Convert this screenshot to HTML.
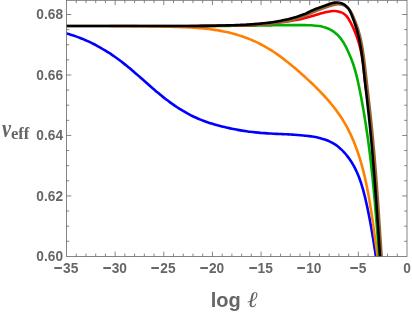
<!DOCTYPE html>
<html><head><meta charset="utf-8"><title>plot</title>
<style>
html,body{margin:0;padding:0;background:#fff;}
body{width:412px;height:314px;position:relative;overflow:hidden;font-family:"Liberation Sans",sans-serif;color:#666666;}
.yl{position:absolute;left:0;width:63px;text-align:right;font-weight:bold;font-size:13.7px;line-height:16px;height:16px;margin-top:-8px;transform:scaleY(1.05);}
.xl{position:absolute;top:261.2px;width:60px;margin-left:-30px;text-align:center;font-weight:bold;font-size:13.7px;line-height:16px;height:16px;white-space:nowrap;transform:scaleY(1.05);}
.mn{display:inline-block;transform:scale(1.12,1.25);margin-right:0.9px;margin-left:-0.6px}
.nu{position:absolute;left:1.7px;top:113.5px;font-family:"Liberation Serif",serif;font-weight:bold;font-style:italic;font-size:26px;line-height:30px;height:30px;white-space:nowrap;transform:scaleX(0.78);transform-origin:0 0;}
.ef{position:absolute;left:10.9px;top:124.4px;font-family:"Liberation Serif",serif;font-weight:bold;font-size:16.6px;line-height:20px;height:20px;white-space:nowrap;}
.xt{position:absolute;left:210.8px;top:284.5px;font-weight:bold;font-size:20px;line-height:30px;height:30px;white-space:nowrap;}
.el{position:absolute;left:247px;top:284.5px;font-family:"Liberation Serif",serif;font-style:italic;font-size:22px;line-height:30px;height:30px;transform:scaleX(1.15);transform-origin:0 0;}
</style></head><body>
<svg width="412" height="314" viewBox="0 0 412 314" style="position:absolute;left:0;top:0">
<defs><clipPath id="c"><rect x="66.50" y="0.30" width="340.50" height="256.10"/></clipPath></defs>
<g clip-path="url(#c)" fill="none" stroke-width="2.6" stroke-linejoin="round">
<path d="M59.93,31.90 C60.42,32.01 61.90,32.34 62.88,32.57 C63.85,32.80 64.83,33.05 65.80,33.30 C66.77,33.56 67.73,33.82 68.70,34.10 C69.66,34.37 70.62,34.66 71.57,34.96 C72.52,35.26 73.47,35.57 74.42,35.88 C75.36,36.20 76.30,36.53 77.24,36.87 C78.18,37.21 79.11,37.56 80.04,37.92 C80.97,38.27 81.89,38.64 82.81,39.02 C83.73,39.40 84.65,39.79 85.56,40.18 C86.48,40.58 87.38,40.98 88.29,41.40 C89.19,41.81 90.09,42.24 90.99,42.67 C91.88,43.10 92.77,43.54 93.66,43.99 C94.54,44.44 95.43,44.90 96.30,45.37 C97.18,45.83 98.06,46.31 98.93,46.79 C99.79,47.27 100.66,47.76 101.52,48.26 C102.38,48.76 103.24,49.26 104.09,49.78 C104.94,50.29 105.79,50.81 106.63,51.34 C107.47,51.86 108.31,52.40 109.15,52.94 C109.98,53.48 110.81,54.03 111.63,54.59 C112.46,55.14 113.28,55.71 114.10,56.27 C114.91,56.84 115.72,57.42 116.53,58.00 C117.34,58.58 118.14,59.17 118.94,59.76 C119.74,60.36 120.53,60.96 121.32,61.56 C122.11,62.17 122.89,62.78 123.67,63.39 C124.46,64.01 125.23,64.63 126.01,65.25 C126.78,65.88 127.55,66.51 128.32,67.14 C129.08,67.77 129.85,68.41 130.61,69.05 C131.37,69.69 132.13,70.34 132.89,70.98 C133.65,71.63 134.40,72.28 135.15,72.93 C135.91,73.58 136.66,74.23 137.41,74.89 C138.16,75.54 138.91,76.20 139.66,76.86 C140.41,77.52 141.15,78.18 141.90,78.83 C142.65,79.49 143.40,80.15 144.14,80.81 C144.89,81.47 145.64,82.13 146.39,82.79 C147.13,83.45 147.88,84.11 148.63,84.77 C149.38,85.43 150.13,86.08 150.88,86.74 C151.63,87.39 152.39,88.05 153.14,88.70 C153.90,89.35 154.65,90.00 155.41,90.64 C156.17,91.29 156.93,91.93 157.70,92.57 C158.46,93.21 159.23,93.85 160.00,94.48 C160.77,95.11 161.54,95.74 162.32,96.36 C163.09,96.99 163.87,97.61 164.66,98.22 C165.44,98.84 166.23,99.45 167.02,100.05 C167.82,100.66 168.61,101.25 169.42,101.85 C170.22,102.44 171.03,103.03 171.84,103.61 C172.65,104.19 173.47,104.76 174.29,105.32 C175.11,105.89 175.94,106.45 176.77,107.00 C177.60,107.55 178.44,108.09 179.28,108.63 C180.13,109.16 180.97,109.69 181.83,110.21 C182.68,110.73 183.54,111.24 184.40,111.74 C185.26,112.24 186.13,112.73 187.00,113.21 C187.87,113.69 188.75,114.16 189.63,114.62 C190.51,115.08 191.40,115.53 192.29,115.97 C193.19,116.41 194.08,116.84 194.98,117.25 C195.89,117.67 196.79,118.07 197.70,118.47 C198.61,118.86 199.53,119.24 200.45,119.62 C201.37,119.99 202.30,120.35 203.22,120.70 C204.15,121.05 205.08,121.39 206.02,121.73 C206.96,122.06 207.90,122.38 208.84,122.69 C209.78,123.01 210.73,123.31 211.68,123.61 C212.63,123.90 213.58,124.19 214.53,124.47 C215.49,124.75 216.45,125.02 217.41,125.29 C218.36,125.55 219.33,125.81 220.29,126.06 C221.26,126.31 222.22,126.55 223.19,126.79 C224.16,127.03 225.13,127.26 226.10,127.48 C227.07,127.71 228.04,127.93 229.02,128.14 C229.99,128.35 230.97,128.55 231.95,128.75 C232.92,128.95 233.90,129.14 234.88,129.33 C235.86,129.52 236.84,129.70 237.83,129.87 C238.81,130.04 239.79,130.21 240.78,130.37 C241.76,130.54 242.75,130.69 243.73,130.84 C244.72,130.99 245.71,131.14 246.70,131.28 C247.69,131.41 248.67,131.55 249.66,131.67 C250.65,131.80 251.64,131.92 252.63,132.04 C253.63,132.15 254.62,132.26 255.61,132.37 C256.60,132.47 257.59,132.57 258.58,132.66 C259.57,132.76 260.57,132.85 261.56,132.93 C262.55,133.01 263.54,133.09 264.54,133.16 C265.53,133.23 266.52,133.30 267.51,133.36 C268.50,133.43 269.50,133.48 270.49,133.54 C271.48,133.60 272.47,133.65 273.47,133.70 C274.46,133.75 275.45,133.80 276.44,133.84 C277.44,133.89 278.43,133.93 279.42,133.98 C280.41,134.02 281.41,134.07 282.40,134.11 C283.39,134.16 284.39,134.20 285.38,134.25 C286.37,134.30 287.37,134.35 288.36,134.40 C289.35,134.45 290.35,134.50 291.34,134.56 C292.34,134.62 293.33,134.67 294.33,134.74 C295.32,134.80 296.32,134.87 297.31,134.95 C298.31,135.02 299.31,135.10 300.30,135.18 C301.30,135.27 302.30,135.36 303.29,135.46 C304.29,135.56 305.29,135.66 306.29,135.78 C307.29,135.89 308.29,136.01 309.28,136.15 C310.28,136.28 311.28,136.42 312.27,136.58 C313.27,136.73 314.26,136.90 315.25,137.08 C316.23,137.27 317.22,137.47 318.19,137.69 C319.16,137.90 320.13,138.14 321.09,138.40 C322.05,138.66 323.00,138.93 323.94,139.23 C324.88,139.54 325.81,139.86 326.73,140.21 C327.64,140.56 328.55,140.94 329.43,141.35 C330.32,141.76 331.20,142.19 332.05,142.66 C332.91,143.13 333.75,143.63 334.58,144.15 C335.40,144.68 336.21,145.24 337.00,145.83 C337.78,146.42 338.56,147.03 339.31,147.67 C340.07,148.31 340.80,148.98 341.52,149.66 C342.24,150.35 342.95,151.06 343.63,151.79 C344.32,152.51 344.98,153.26 345.63,154.03 C346.28,154.79 346.92,155.58 347.53,156.37 C348.15,157.17 348.74,157.98 349.32,158.81 C349.90,159.63 350.46,160.47 351.00,161.31 C351.55,162.15 352.07,163.01 352.58,163.87 C353.09,164.73 353.58,165.60 354.05,166.48 C354.53,167.36 354.98,168.24 355.42,169.13 C355.87,170.02 356.29,170.92 356.70,171.83 C357.12,172.73 357.51,173.64 357.90,174.56 C358.28,175.47 358.65,176.39 359.01,177.32 C359.37,178.25 359.71,179.18 360.05,180.12 C360.38,181.05 360.71,182.00 361.02,182.94 C361.33,183.89 361.63,184.84 361.93,185.79 C362.22,186.74 362.50,187.70 362.78,188.66 C363.05,189.62 363.32,190.58 363.58,191.54 C363.84,192.51 364.09,193.48 364.33,194.45 C364.58,195.41 364.82,196.39 365.05,197.36 C365.28,198.33 365.51,199.30 365.73,200.28 C365.96,201.25 366.18,202.23 366.39,203.20 C366.61,204.18 366.82,205.15 367.03,206.13 C367.24,207.10 367.45,208.08 367.65,209.06 C367.86,210.03 368.06,211.01 368.26,211.98 C368.46,212.96 368.65,213.93 368.85,214.91 C369.04,215.89 369.23,216.86 369.42,217.84 C369.61,218.81 369.80,219.79 369.98,220.77 C370.17,221.74 370.35,222.72 370.53,223.70 C370.71,224.67 370.89,225.65 371.06,226.63 C371.24,227.61 371.41,228.59 371.58,229.56 C371.75,230.54 371.92,231.52 372.09,232.50 C372.26,233.48 372.42,234.46 372.59,235.44 C372.75,236.42 372.91,237.40 373.08,238.38 C373.24,239.36 373.40,240.34 373.55,241.32 C373.71,242.30 373.87,243.29 374.02,244.27 C374.18,245.25 374.33,246.24 374.48,247.22 C374.63,248.20 374.78,249.19 374.93,250.17 C375.08,251.16 375.23,252.15 375.38,253.13 C375.52,254.12 375.67,255.11 375.81,256.09 C375.96,257.08 376.10,258.07 376.25,259.06 C376.39,260.05 376.53,261.04 376.67,262.03 C376.82,263.02 377.03,264.51 377.10,265.01" stroke="#0000ff"/>
<path d="M110.00,25.93 C110.50,25.93 112.01,25.94 113.01,25.94 C114.01,25.94 115.01,25.95 116.01,25.95 C117.01,25.96 118.01,25.97 119.01,25.97 C120.01,25.98 121.01,25.99 122.01,25.99 C123.01,26.00 124.00,26.01 125.00,26.02 C126.00,26.03 127.00,26.04 127.99,26.05 C128.99,26.05 129.99,26.07 130.99,26.08 C131.98,26.09 132.98,26.10 133.98,26.11 C134.97,26.12 135.97,26.14 136.96,26.15 C137.96,26.16 138.96,26.18 139.95,26.19 C140.95,26.20 141.95,26.22 142.94,26.23 C143.94,26.25 144.93,26.26 145.93,26.28 C146.93,26.30 147.92,26.31 148.92,26.33 C149.91,26.35 150.91,26.37 151.91,26.38 C152.90,26.40 153.90,26.42 154.90,26.44 C155.90,26.46 156.89,26.48 157.89,26.50 C158.89,26.52 159.89,26.54 160.88,26.56 C161.88,26.58 162.88,26.60 163.88,26.62 C164.88,26.65 165.88,26.67 166.88,26.69 C167.88,26.71 168.88,26.74 169.88,26.76 C170.88,26.78 171.88,26.81 172.88,26.83 C173.88,26.86 174.89,26.88 175.89,26.91 C176.89,26.94 177.89,26.97 178.90,27.00 C179.90,27.03 180.90,27.06 181.90,27.10 C182.91,27.13 183.91,27.17 184.91,27.21 C185.91,27.25 186.92,27.30 187.92,27.34 C188.92,27.39 189.92,27.44 190.93,27.50 C191.93,27.55 192.93,27.61 193.93,27.67 C194.93,27.74 195.93,27.81 196.93,27.88 C197.93,27.95 198.93,28.03 199.93,28.11 C200.92,28.20 201.92,28.29 202.92,28.38 C203.92,28.48 204.91,28.58 205.91,28.68 C206.90,28.79 207.89,28.91 208.89,29.03 C209.88,29.15 210.87,29.28 211.86,29.41 C212.85,29.55 213.84,29.69 214.83,29.84 C215.82,29.99 216.80,30.15 217.79,30.32 C218.77,30.49 219.76,30.66 220.74,30.85 C221.72,31.03 222.70,31.23 223.68,31.43 C224.66,31.63 225.63,31.84 226.61,32.06 C227.58,32.28 228.55,32.51 229.52,32.75 C230.49,32.98 231.46,33.23 232.42,33.49 C233.38,33.74 234.34,34.01 235.30,34.28 C236.26,34.55 237.21,34.84 238.17,35.13 C239.12,35.42 240.06,35.72 241.01,36.03 C241.95,36.34 242.90,36.66 243.83,36.99 C244.77,37.32 245.70,37.66 246.63,38.01 C247.56,38.36 248.49,38.72 249.41,39.09 C250.33,39.46 251.25,39.84 252.16,40.23 C253.07,40.62 253.98,41.01 254.88,41.42 C255.78,41.83 256.68,42.25 257.58,42.68 C258.47,43.11 259.36,43.55 260.24,44.00 C261.12,44.45 262.00,44.91 262.87,45.38 C263.74,45.85 264.61,46.33 265.47,46.82 C266.33,47.31 267.19,47.82 268.04,48.33 C268.89,48.84 269.73,49.36 270.57,49.88 C271.41,50.41 272.25,50.95 273.08,51.50 C273.91,52.04 274.74,52.60 275.56,53.16 C276.39,53.72 277.20,54.29 278.02,54.87 C278.83,55.44 279.64,56.03 280.45,56.62 C281.25,57.21 282.06,57.81 282.85,58.41 C283.65,59.01 284.45,59.62 285.24,60.24 C286.03,60.85 286.82,61.47 287.60,62.10 C288.39,62.73 289.17,63.36 289.95,64.00 C290.73,64.63 291.50,65.27 292.28,65.92 C293.05,66.56 293.82,67.21 294.59,67.86 C295.36,68.52 296.12,69.17 296.89,69.83 C297.65,70.49 298.41,71.15 299.17,71.82 C299.93,72.48 300.68,73.15 301.44,73.82 C302.19,74.49 302.95,75.16 303.70,75.83 C304.45,76.50 305.20,77.18 305.94,77.86 C306.69,78.54 307.43,79.22 308.17,79.90 C308.91,80.59 309.65,81.27 310.38,81.96 C311.12,82.65 311.85,83.35 312.57,84.04 C313.30,84.74 314.02,85.44 314.74,86.14 C315.46,86.84 316.18,87.55 316.89,88.26 C317.60,88.96 318.30,89.68 319.00,90.39 C319.70,91.11 320.40,91.83 321.09,92.55 C321.78,93.28 322.47,94.00 323.15,94.74 C323.83,95.47 324.51,96.20 325.18,96.94 C325.85,97.68 326.51,98.43 327.17,99.17 C327.83,99.92 328.48,100.68 329.12,101.43 C329.77,102.19 330.41,102.95 331.04,103.72 C331.67,104.49 332.29,105.26 332.91,106.03 C333.53,106.81 334.14,107.59 334.74,108.38 C335.35,109.16 335.94,109.96 336.53,110.75 C337.12,111.55 337.70,112.35 338.27,113.16 C338.84,113.97 339.40,114.78 339.96,115.60 C340.51,116.42 341.06,117.24 341.59,118.07 C342.13,118.90 342.66,119.74 343.18,120.58 C343.70,121.43 344.21,122.27 344.71,123.13 C345.21,123.98 345.70,124.84 346.18,125.71 C346.66,126.58 347.13,127.45 347.59,128.33 C348.06,129.21 348.51,130.09 348.95,130.98 C349.40,131.87 349.83,132.76 350.26,133.66 C350.69,134.56 351.11,135.46 351.52,136.37 C351.93,137.28 352.33,138.19 352.72,139.11 C353.12,140.03 353.50,140.95 353.88,141.87 C354.26,142.80 354.63,143.73 354.99,144.66 C355.36,145.59 355.71,146.53 356.06,147.47 C356.41,148.41 356.75,149.35 357.08,150.29 C357.42,151.24 357.74,152.18 358.06,153.13 C358.38,154.08 358.70,155.04 359.00,155.99 C359.31,156.94 359.61,157.90 359.91,158.86 C360.20,159.82 360.49,160.78 360.77,161.74 C361.05,162.70 361.33,163.66 361.60,164.62 C361.87,165.59 362.14,166.55 362.40,167.52 C362.66,168.49 362.91,169.45 363.16,170.42 C363.41,171.39 363.65,172.36 363.89,173.33 C364.13,174.30 364.37,175.27 364.60,176.24 C364.83,177.22 365.05,178.19 365.27,179.16 C365.49,180.14 365.71,181.11 365.92,182.09 C366.13,183.07 366.34,184.05 366.54,185.02 C366.74,186.00 366.94,186.98 367.14,187.96 C367.33,188.94 367.53,189.92 367.71,190.90 C367.90,191.88 368.09,192.86 368.27,193.85 C368.45,194.83 368.63,195.81 368.80,196.80 C368.98,197.78 369.15,198.77 369.32,199.75 C369.49,200.74 369.66,201.72 369.82,202.71 C369.98,203.69 370.14,204.68 370.30,205.67 C370.46,206.65 370.62,207.64 370.77,208.63 C370.93,209.62 371.08,210.60 371.23,211.59 C371.38,212.58 371.53,213.57 371.68,214.56 C371.83,215.55 371.97,216.54 372.12,217.53 C372.26,218.52 372.40,219.51 372.54,220.50 C372.69,221.49 372.83,222.48 372.97,223.47 C373.11,224.45 373.25,225.45 373.38,226.44 C373.52,227.43 373.66,228.42 373.80,229.41 C373.93,230.40 374.07,231.39 374.21,232.38 C374.34,233.36 374.48,234.35 374.61,235.34 C374.75,236.33 374.89,237.32 375.02,238.31 C375.16,239.30 375.30,240.29 375.43,241.28 C375.57,242.27 375.71,243.26 375.85,244.25 C375.99,245.23 376.13,246.22 376.27,247.21 C376.41,248.20 376.55,249.18 376.69,250.17 C376.83,251.16 376.98,252.14 377.12,253.13 C377.27,254.11 377.42,255.10 377.56,256.08 C377.71,257.07 377.86,258.05 378.02,259.04 C378.17,260.02 378.32,261.00 378.48,261.98 C378.63,262.97 378.87,264.44 378.95,264.93" stroke="#ff8000"/>
<path d="M200.02,26.04 C200.51,26.03 202.00,26.02 202.99,26.02 C203.98,26.01 204.97,26.00 205.97,25.99 C206.96,25.99 207.95,25.98 208.95,25.97 C209.94,25.97 210.93,25.96 211.93,25.96 C212.92,25.95 213.92,25.94 214.91,25.94 C215.91,25.93 216.91,25.92 217.90,25.92 C218.90,25.91 219.90,25.90 220.89,25.90 C221.89,25.89 222.89,25.88 223.88,25.88 C224.88,25.87 225.88,25.86 226.88,25.85 C227.87,25.85 228.87,25.84 229.87,25.83 C230.87,25.82 231.87,25.82 232.86,25.81 C233.86,25.80 234.86,25.79 235.86,25.78 C236.86,25.77 237.85,25.77 238.85,25.76 C239.85,25.75 240.85,25.74 241.85,25.73 C242.84,25.72 243.84,25.71 244.84,25.70 C245.84,25.69 246.83,25.68 247.83,25.67 C248.83,25.66 249.82,25.65 250.82,25.63 C251.82,25.62 252.81,25.61 253.81,25.60 C254.80,25.59 255.80,25.57 256.79,25.56 C257.79,25.55 258.78,25.53 259.78,25.52 C260.77,25.50 261.76,25.49 262.76,25.47 C263.75,25.46 264.74,25.44 265.73,25.43 C266.73,25.41 267.72,25.40 268.71,25.38 C269.70,25.36 270.69,25.35 271.69,25.33 C272.68,25.32 273.67,25.30 274.66,25.29 C275.65,25.27 276.64,25.26 277.64,25.25 C278.63,25.23 279.62,25.22 280.61,25.21 C281.61,25.19 282.60,25.18 283.59,25.17 C284.59,25.16 285.58,25.15 286.57,25.14 C287.57,25.14 288.56,25.13 289.56,25.12 C290.55,25.12 291.55,25.11 292.55,25.11 C293.54,25.11 294.54,25.11 295.54,25.11 C296.54,25.11 297.54,25.11 298.54,25.11 C299.54,25.12 300.54,25.12 301.54,25.13 C302.55,25.14 303.55,25.15 304.55,25.16 C305.56,25.18 306.57,25.19 307.57,25.21 C308.58,25.23 309.59,25.25 310.59,25.28 C311.60,25.32 312.60,25.36 313.60,25.43 C314.60,25.50 315.60,25.57 316.59,25.68 C317.58,25.79 318.56,25.92 319.53,26.08 C320.51,26.25 321.48,26.44 322.43,26.67 C323.39,26.90 324.34,27.17 325.27,27.48 C326.20,27.79 327.12,28.15 328.02,28.54 C328.92,28.94 329.81,29.38 330.68,29.86 C331.54,30.34 332.39,30.85 333.20,31.41 C334.02,31.96 334.82,32.55 335.58,33.18 C336.34,33.81 337.08,34.47 337.78,35.16 C338.48,35.86 339.14,36.59 339.78,37.34 C340.42,38.10 341.02,38.89 341.61,39.69 C342.19,40.50 342.74,41.33 343.27,42.18 C343.80,43.03 344.31,43.90 344.80,44.78 C345.29,45.65 345.76,46.55 346.21,47.45 C346.67,48.35 347.10,49.26 347.53,50.18 C347.96,51.09 348.38,52.01 348.78,52.92 C349.19,53.84 349.59,54.76 349.97,55.67 C350.36,56.59 350.74,57.51 351.10,58.44 C351.47,59.36 351.82,60.29 352.16,61.22 C352.51,62.15 352.84,63.08 353.16,64.02 C353.48,64.95 353.78,65.90 354.08,66.84 C354.38,67.79 354.66,68.74 354.94,69.69 C355.21,70.64 355.48,71.60 355.74,72.56 C356.00,73.52 356.24,74.48 356.49,75.44 C356.73,76.41 356.96,77.38 357.19,78.34 C357.42,79.31 357.64,80.28 357.86,81.26 C358.08,82.23 358.29,83.20 358.50,84.18 C358.71,85.15 358.91,86.13 359.11,87.10 C359.31,88.08 359.51,89.06 359.71,90.03 C359.91,91.01 360.10,91.99 360.30,92.96 C360.49,93.94 360.68,94.92 360.87,95.90 C361.06,96.88 361.24,97.85 361.43,98.83 C361.61,99.81 361.79,100.79 361.97,101.77 C362.15,102.75 362.33,103.73 362.50,104.71 C362.68,105.69 362.85,106.67 363.03,107.65 C363.20,108.63 363.37,109.61 363.54,110.59 C363.71,111.57 363.87,112.56 364.04,113.54 C364.20,114.52 364.36,115.50 364.53,116.48 C364.69,117.47 364.85,118.45 365.00,119.43 C365.16,120.42 365.32,121.40 365.47,122.38 C365.63,123.37 365.78,124.35 365.93,125.33 C366.08,126.32 366.23,127.30 366.38,128.29 C366.53,129.27 366.68,130.26 366.82,131.24 C366.96,132.23 367.11,133.21 367.25,134.20 C367.39,135.18 367.53,136.17 367.67,137.16 C367.81,138.14 367.95,139.13 368.08,140.12 C368.22,141.10 368.35,142.09 368.48,143.08 C368.62,144.06 368.75,145.05 368.88,146.04 C369.01,147.02 369.13,148.01 369.26,149.00 C369.39,149.99 369.51,150.98 369.64,151.96 C369.76,152.95 369.88,153.94 370.00,154.93 C370.12,155.92 370.24,156.91 370.36,157.89 C370.48,158.88 370.59,159.87 370.71,160.86 C370.82,161.85 370.94,162.84 371.05,163.83 C371.16,164.82 371.27,165.81 371.38,166.80 C371.49,167.79 371.60,168.78 371.71,169.77 C371.81,170.76 371.92,171.75 372.02,172.74 C372.13,173.73 372.23,174.72 372.33,175.71 C372.43,176.70 372.54,177.69 372.64,178.68 C372.73,179.67 372.83,180.66 372.93,181.65 C373.03,182.64 373.13,183.64 373.22,184.63 C373.32,185.62 373.41,186.61 373.50,187.60 C373.60,188.59 373.69,189.58 373.78,190.57 C373.87,191.57 373.96,192.56 374.05,193.55 C374.15,194.54 374.23,195.53 374.32,196.52 C374.41,197.52 374.50,198.51 374.59,199.50 C374.67,200.49 374.76,201.48 374.85,202.48 C374.93,203.47 375.02,204.46 375.10,205.45 C375.19,206.44 375.27,207.44 375.35,208.43 C375.44,209.42 375.52,210.41 375.60,211.41 C375.69,212.40 375.77,213.39 375.85,214.38 C375.93,215.38 376.01,216.37 376.09,217.36 C376.17,218.35 376.25,219.35 376.34,220.34 C376.42,221.33 376.50,222.32 376.58,223.32 C376.66,224.31 376.74,225.30 376.82,226.29 C376.89,227.29 376.97,228.28 377.05,229.27 C377.13,230.27 377.21,231.26 377.29,232.25 C377.37,233.24 377.45,234.24 377.53,235.23 C377.61,236.22 377.69,237.21 377.77,238.21 C377.85,239.20 377.93,240.19 378.00,241.18 C378.08,242.18 378.16,243.17 378.24,244.16 C378.32,245.16 378.40,246.15 378.48,247.14 C378.57,248.13 378.65,249.13 378.73,250.12 C378.81,251.11 378.89,252.10 378.97,253.10 C379.05,254.09 379.13,255.08 379.22,256.07 C379.30,257.06 379.38,258.06 379.47,259.05 C379.55,260.04 379.63,261.03 379.72,262.03 C379.80,263.02 379.93,264.51 379.97,265.00" stroke="#00b000"/>
<path d="M190.00,25.99 C190.50,25.99 192.00,26.01 193.00,26.01 C194.00,26.02 194.99,26.03 195.99,26.03 C196.99,26.03 197.99,26.03 198.99,26.03 C199.99,26.02 200.99,26.02 201.99,26.01 C202.98,26.01 203.98,26.00 204.98,25.99 C205.98,25.98 206.98,25.97 207.97,25.96 C208.97,25.94 209.97,25.93 210.97,25.92 C211.97,25.90 212.96,25.89 213.96,25.87 C214.96,25.85 215.96,25.84 216.96,25.82 C217.95,25.80 218.95,25.78 219.95,25.76 C220.95,25.75 221.95,25.73 222.95,25.71 C223.94,25.69 224.94,25.67 225.94,25.65 C226.94,25.63 227.94,25.62 228.94,25.60 C229.93,25.58 230.93,25.56 231.93,25.55 C232.93,25.53 233.93,25.52 234.93,25.50 C235.93,25.48 236.93,25.47 237.93,25.45 C238.92,25.43 239.92,25.42 240.92,25.40 C241.92,25.38 242.92,25.35 243.92,25.33 C244.92,25.31 245.92,25.28 246.91,25.25 C247.91,25.22 248.91,25.19 249.91,25.15 C250.91,25.11 251.90,25.07 252.90,25.03 C253.90,24.98 254.90,24.93 255.89,24.87 C256.89,24.82 257.88,24.76 258.88,24.69 C259.88,24.62 260.87,24.55 261.87,24.47 C262.86,24.39 263.85,24.30 264.85,24.21 C265.84,24.12 266.83,24.02 267.83,23.92 C268.82,23.81 269.81,23.70 270.80,23.59 C271.80,23.48 272.79,23.36 273.78,23.24 C274.77,23.12 275.76,23.00 276.75,22.87 C277.74,22.75 278.73,22.62 279.72,22.48 C280.71,22.35 281.70,22.22 282.69,22.08 C283.68,21.95 284.67,21.81 285.66,21.67 C286.65,21.53 287.64,21.40 288.63,21.25 C289.62,21.11 290.61,20.97 291.59,20.81 C292.58,20.66 293.56,20.50 294.55,20.33 C295.53,20.16 296.51,19.98 297.49,19.79 C298.47,19.60 299.45,19.40 300.42,19.18 C301.39,18.96 302.37,18.72 303.33,18.48 C304.30,18.23 305.27,17.97 306.23,17.71 C307.19,17.45 308.16,17.17 309.12,16.90 C310.08,16.63 311.03,16.34 311.99,16.07 C312.95,15.79 313.90,15.51 314.86,15.23 C315.82,14.95 316.77,14.68 317.73,14.40 C318.69,14.13 319.64,13.86 320.61,13.60 C321.57,13.33 322.53,13.08 323.50,12.82 C324.48,12.57 325.45,12.32 326.43,12.09 C327.41,11.86 328.40,11.62 329.39,11.45 C330.38,11.27 331.38,11.10 332.37,11.03 C333.36,10.96 334.36,10.93 335.35,11.00 C336.34,11.08 337.33,11.25 338.30,11.48 C339.28,11.71 340.26,12.00 341.18,12.38 C342.11,12.76 343.02,13.19 343.84,13.75 C344.66,14.30 345.41,14.98 346.10,15.70 C346.78,16.42 347.38,17.24 347.95,18.06 C348.52,18.88 349.02,19.76 349.52,20.63 C350.02,21.50 350.50,22.38 350.96,23.27 C351.43,24.15 351.88,25.04 352.31,25.94 C352.75,26.83 353.17,27.73 353.58,28.64 C353.99,29.55 354.38,30.47 354.77,31.39 C355.15,32.31 355.52,33.24 355.88,34.17 C356.24,35.10 356.58,36.04 356.91,36.98 C357.25,37.92 357.56,38.87 357.87,39.82 C358.18,40.77 358.47,41.72 358.76,42.68 C359.04,43.64 359.31,44.60 359.57,45.57 C359.83,46.54 360.07,47.51 360.31,48.48 C360.54,49.45 360.76,50.42 360.98,51.40 C361.19,52.38 361.39,53.36 361.57,54.34 C361.76,55.32 361.94,56.30 362.10,57.29 C362.27,58.27 362.42,59.26 362.57,60.25 C362.72,61.23 362.85,62.22 362.98,63.21 C363.11,64.20 363.24,65.19 363.35,66.18 C363.47,67.17 363.58,68.16 363.69,69.16 C363.80,70.15 363.90,71.14 364.01,72.13 C364.11,73.13 364.21,74.12 364.31,75.12 C364.41,76.11 364.51,77.10 364.62,78.10 C364.72,79.09 364.82,80.08 364.93,81.08 C365.03,82.07 365.14,83.06 365.26,84.05 C365.37,85.05 365.49,86.04 365.62,87.03 C365.75,88.02 365.96,89.50 366.02,90.00" stroke="#ff0000"/>
<path d="M59.99,26.08 C60.49,26.08 61.99,26.06 62.98,26.06 C63.98,26.05 64.98,26.04 65.97,26.03 C66.97,26.03 67.97,26.02 68.96,26.01 C69.96,26.01 70.96,26.00 71.95,26.00 C72.95,25.99 73.95,25.99 74.94,25.98 C75.94,25.98 76.93,25.97 77.93,25.97 C78.93,25.96 79.92,25.96 80.92,25.96 C81.92,25.95 82.91,25.95 83.91,25.95 C84.91,25.95 85.90,25.95 86.90,25.94 C87.89,25.94 88.89,25.94 89.89,25.94 C90.88,25.94 91.88,25.94 92.88,25.94 C93.87,25.94 94.87,25.94 95.86,25.94 C96.86,25.94 97.86,25.94 98.85,25.94 C99.85,25.94 100.84,25.94 101.84,25.94 C102.84,25.94 103.83,25.94 104.83,25.94 C105.83,25.94 106.82,25.94 107.82,25.94 C108.81,25.95 109.81,25.95 110.81,25.95 C111.80,25.95 112.80,25.95 113.79,25.96 C114.79,25.96 115.79,25.96 116.78,25.96 C117.78,25.97 118.77,25.97 119.77,25.97 C120.77,25.97 121.76,25.98 122.76,25.98 C123.75,25.98 124.75,25.98 125.75,25.99 C126.74,25.99 127.74,25.99 128.73,26.00 C129.73,26.00 130.73,26.00 131.72,26.00 C132.72,26.01 133.71,26.01 134.71,26.01 C135.71,26.02 136.70,26.02 137.70,26.02 C138.69,26.02 139.69,26.03 140.68,26.03 C141.68,26.03 142.68,26.03 143.67,26.04 C144.67,26.04 145.66,26.04 146.66,26.04 C147.66,26.05 148.65,26.05 149.65,26.05 C150.64,26.05 151.64,26.06 152.64,26.06 C153.63,26.06 154.63,26.06 155.62,26.06 C156.62,26.06 157.62,26.07 158.61,26.07 C159.61,26.07 160.60,26.07 161.60,26.07 C162.59,26.07 163.59,26.07 164.59,26.07 C165.58,26.07 166.58,26.07 167.57,26.07 C168.57,26.07 169.57,26.07 170.56,26.07 C171.56,26.07 172.55,26.07 173.55,26.07 C174.55,26.07 175.54,26.07 176.54,26.07 C177.53,26.06 178.53,26.06 179.53,26.06 C180.52,26.06 181.52,26.06 182.51,26.05 C183.51,26.05 184.51,26.05 185.50,26.04 C186.50,26.04 187.49,26.03 188.49,26.03 C189.49,26.03 190.48,26.02 191.48,26.02 C192.47,26.01 193.47,26.00 194.47,26.00 C195.46,25.99 196.46,25.99 197.45,25.98 C198.45,25.97 199.45,25.96 200.44,25.96 C201.44,25.95 202.44,25.94 203.43,25.93 C204.43,25.92 205.42,25.91 206.42,25.90 C207.42,25.89 208.41,25.88 209.41,25.87 C210.40,25.86 211.40,25.85 212.40,25.84 C213.39,25.83 214.39,25.81 215.39,25.80 C216.38,25.79 217.38,25.77 218.37,25.76 C219.37,25.75 220.37,25.73 221.36,25.72 C222.36,25.70 223.36,25.68 224.35,25.67 C225.35,25.65 226.35,25.63 227.34,25.61 C228.34,25.60 229.33,25.58 230.33,25.56 C231.33,25.54 232.32,25.52 233.32,25.50 C234.32,25.48 235.31,25.46 236.31,25.43 C237.31,25.41 238.30,25.39 239.30,25.37 C240.30,25.34 241.29,25.32 242.29,25.29 C243.29,25.27 244.28,25.24 245.28,25.21 C246.28,25.18 247.27,25.15 248.27,25.12 C249.26,25.09 250.26,25.05 251.26,25.01 C252.25,24.97 253.25,24.93 254.24,24.89 C255.24,24.84 256.23,24.79 257.22,24.74 C258.22,24.68 259.21,24.63 260.21,24.56 C261.20,24.50 262.19,24.43 263.18,24.36 C264.18,24.29 265.17,24.21 266.16,24.12 C267.15,24.04 268.14,23.95 269.13,23.85 C270.12,23.75 271.11,23.65 272.09,23.54 C273.08,23.43 274.07,23.31 275.05,23.18 C276.04,23.06 277.02,22.92 278.01,22.78 C278.99,22.64 279.98,22.49 280.96,22.33 C281.94,22.17 282.92,22.00 283.90,21.82 C284.88,21.64 285.86,21.45 286.83,21.25 C287.81,21.05 288.79,20.84 289.76,20.62 C290.74,20.40 291.71,20.17 292.68,19.93 C293.65,19.69 294.63,19.44 295.59,19.17 C296.55,18.89 297.52,18.61 298.46,18.30 C299.41,17.99 300.35,17.66 301.27,17.30 C302.20,16.95 303.11,16.57 304.02,16.19 C304.94,15.81 305.85,15.41 306.76,15.02 C307.68,14.63 308.60,14.24 309.52,13.84 C310.43,13.45 311.35,13.06 312.27,12.67 C313.19,12.28 314.12,11.89 315.04,11.50 C315.96,11.12 316.88,10.74 317.81,10.37 C318.73,9.99 319.66,9.63 320.58,9.27 C321.51,8.92 322.44,8.57 323.37,8.23 C324.30,7.89 325.23,7.56 326.18,7.25 C327.12,6.93 328.06,6.62 329.01,6.33 C329.96,6.03 330.92,5.75 331.89,5.48 C332.86,5.22 333.84,4.93 334.82,4.74 C335.80,4.55 336.79,4.36 337.78,4.32 C338.77,4.29 339.77,4.34 340.74,4.51 C341.72,4.69 342.69,4.98 343.61,5.36 C344.53,5.74 345.43,6.24 346.26,6.80 C347.08,7.36 347.86,8.02 348.55,8.73 C349.24,9.44 349.85,10.23 350.41,11.05 C350.97,11.87 351.44,12.76 351.90,13.64 C352.36,14.53 352.76,15.45 353.17,16.37 C353.58,17.28 353.98,18.20 354.37,19.13 C354.75,20.05 355.13,20.97 355.50,21.90 C355.86,22.83 356.21,23.76 356.55,24.70 C356.90,25.63 357.22,26.57 357.54,27.51 C357.85,28.46 358.15,29.41 358.44,30.36 C358.73,31.31 359.00,32.26 359.26,33.22 C359.52,34.18 359.77,35.15 360.01,36.11 C360.24,37.08 360.47,38.05 360.68,39.02 C360.90,39.99 361.10,40.97 361.30,41.94 C361.50,42.92 361.69,43.90 361.87,44.87 C362.05,45.85 362.22,46.84 362.39,47.82 C362.56,48.80 362.72,49.78 362.87,50.76 C363.03,51.75 363.18,52.73 363.33,53.72 C363.47,54.70 363.61,55.69 363.75,56.67 C363.89,57.66 364.02,58.65 364.15,59.64 C364.28,60.62 364.40,61.61 364.52,62.60 C364.65,63.59 364.77,64.58 364.88,65.57 C365.00,66.56 365.12,67.55 365.23,68.53 C365.35,69.52 365.46,70.51 365.57,71.50 C365.68,72.50 365.79,73.49 365.90,74.48 C366.01,75.47 366.12,76.46 366.24,77.45 C366.35,78.44 366.46,79.43 366.57,80.42 C366.68,81.41 366.80,82.40 366.91,83.39 C367.02,84.38 367.13,85.37 367.25,86.36 C367.36,87.35 367.48,88.34 367.59,89.33 C367.70,90.32 367.82,91.30 367.93,92.29 C368.05,93.28 368.16,94.27 368.28,95.26 C368.39,96.25 368.50,97.24 368.62,98.23 C368.73,99.22 368.85,100.21 368.96,101.20 C369.07,102.19 369.19,103.18 369.30,104.17 C369.41,105.16 369.52,106.15 369.63,107.14 C369.75,108.13 369.86,109.12 369.97,110.11 C370.08,111.10 370.19,112.09 370.30,113.08 C370.40,114.07 370.51,115.06 370.62,116.05 C370.73,117.04 370.83,118.03 370.94,119.02 C371.04,120.01 371.15,121.00 371.25,121.99 C371.35,122.98 371.45,123.97 371.56,124.96 C371.66,125.95 371.76,126.95 371.86,127.94 C371.96,128.93 372.05,129.92 372.15,130.91 C372.25,131.90 372.35,132.89 372.44,133.88 C372.54,134.87 372.63,135.87 372.73,136.86 C372.82,137.85 372.92,138.84 373.01,139.83 C373.10,140.82 373.19,141.82 373.29,142.81 C373.38,143.80 373.47,144.79 373.56,145.78 C373.65,146.77 373.74,147.77 373.82,148.76 C373.91,149.75 374.00,150.74 374.09,151.74 C374.17,152.73 374.26,153.72 374.34,154.71 C374.43,155.70 374.51,156.70 374.60,157.69 C374.68,158.68 374.77,159.67 374.85,160.67 C374.93,161.66 375.01,162.65 375.09,163.65 C375.18,164.64 375.26,165.63 375.34,166.62 C375.42,167.62 375.50,168.61 375.58,169.60 C375.66,170.60 375.73,171.59 375.81,172.58 C375.89,173.57 375.97,174.57 376.04,175.56 C376.12,176.55 376.20,177.55 376.27,178.54 C376.35,179.53 376.43,180.53 376.50,181.52 C376.58,182.51 376.65,183.51 376.72,184.50 C376.80,185.49 376.87,186.49 376.95,187.48 C377.02,188.47 377.09,189.47 377.16,190.46 C377.24,191.46 377.31,192.45 377.38,193.44 C377.45,194.44 377.52,195.43 377.59,196.42 C377.66,197.42 377.74,198.41 377.81,199.40 C377.88,200.40 377.95,201.39 378.02,202.39 C378.09,203.38 378.15,204.37 378.22,205.37 C378.29,206.36 378.36,207.35 378.43,208.35 C378.50,209.34 378.57,210.34 378.63,211.33 C378.70,212.32 378.77,213.32 378.84,214.31 C378.91,215.31 378.97,216.30 379.04,217.29 C379.11,218.29 379.17,219.28 379.24,220.28 C379.31,221.27 379.37,222.26 379.44,223.26 C379.51,224.25 379.57,225.24 379.64,226.24 C379.71,227.23 379.77,228.23 379.84,229.22 C379.91,230.21 379.97,231.21 380.04,232.20 C380.10,233.20 380.17,234.19 380.23,235.18 C380.30,236.18 380.37,237.17 380.43,238.17 C380.50,239.16 380.56,240.15 380.63,241.15 C380.70,242.14 380.76,243.14 380.83,244.13 C380.89,245.12 380.96,246.12 381.02,247.11 C381.09,248.10 381.16,249.10 381.22,250.09 C381.29,251.09 381.35,252.08 381.42,253.07 C381.49,254.07 381.55,255.06 381.62,256.05 C381.69,257.05 381.75,258.04 381.82,259.03 C381.88,260.03 381.95,261.02 382.02,262.02 C382.09,263.01 382.19,264.50 382.22,265.00" stroke="#996633"/>
<path d="M60.00,25.99 C60.50,25.99 61.99,25.99 62.99,26.00 C63.99,26.00 64.98,26.00 65.98,26.00 C66.98,26.00 67.97,26.00 68.97,26.00 C69.97,26.00 70.97,26.01 71.96,26.01 C72.96,26.01 73.96,26.01 74.95,26.01 C75.95,26.01 76.95,26.01 77.94,26.01 C78.94,26.01 79.94,26.01 80.93,26.01 C81.93,26.01 82.93,26.01 83.92,26.01 C84.92,26.01 85.92,26.01 86.91,26.01 C87.91,26.01 88.91,26.01 89.91,26.01 C90.90,26.01 91.90,26.01 92.90,26.01 C93.89,26.01 94.89,26.01 95.89,26.01 C96.88,26.01 97.88,26.01 98.88,26.01 C99.87,26.01 100.87,26.00 101.87,26.00 C102.86,26.00 103.86,26.00 104.86,26.00 C105.85,26.00 106.85,26.00 107.85,26.00 C108.84,26.00 109.84,26.00 110.84,26.00 C111.83,26.00 112.83,26.00 113.83,25.99 C114.82,25.99 115.82,25.99 116.82,25.99 C117.81,25.99 118.81,25.99 119.81,25.99 C120.80,25.99 121.80,25.99 122.80,25.99 C123.79,25.99 124.79,25.99 125.79,25.99 C126.78,25.99 127.78,25.99 128.78,25.99 C129.77,25.99 130.77,25.99 131.77,25.99 C132.76,25.98 133.76,25.98 134.76,25.98 C135.75,25.98 136.75,25.98 137.75,25.98 C138.74,25.98 139.74,25.99 140.74,25.99 C141.73,25.99 142.73,25.99 143.73,25.99 C144.72,25.99 145.72,25.99 146.72,25.99 C147.71,25.99 148.71,25.99 149.71,25.99 C150.70,25.99 151.70,25.99 152.70,26.00 C153.69,26.00 154.69,26.00 155.69,26.00 C156.68,26.00 157.68,26.00 158.68,26.00 C159.68,26.01 160.67,26.01 161.67,26.01 C162.67,26.01 163.66,26.01 164.66,26.02 C165.66,26.02 166.65,26.02 167.65,26.02 C168.65,26.02 169.64,26.02 170.64,26.02 C171.64,26.02 172.64,26.03 173.63,26.03 C174.63,26.03 175.63,26.03 176.62,26.03 C177.62,26.03 178.62,26.03 179.61,26.03 C180.61,26.02 181.61,26.02 182.61,26.02 C183.60,26.02 184.60,26.02 185.60,26.01 C186.59,26.01 187.59,26.01 188.59,26.00 C189.58,26.00 190.58,26.00 191.58,25.99 C192.57,25.99 193.57,25.98 194.57,25.97 C195.56,25.97 196.56,25.96 197.56,25.95 C198.55,25.94 199.55,25.93 200.55,25.92 C201.55,25.91 202.54,25.90 203.54,25.89 C204.54,25.88 205.53,25.87 206.53,25.86 C207.53,25.84 208.52,25.83 209.52,25.81 C210.51,25.80 211.51,25.78 212.51,25.76 C213.50,25.75 214.50,25.73 215.50,25.71 C216.49,25.69 217.49,25.67 218.49,25.64 C219.48,25.62 220.48,25.60 221.48,25.57 C222.47,25.55 223.47,25.52 224.46,25.49 C225.46,25.47 226.46,25.44 227.45,25.41 C228.45,25.38 229.44,25.34 230.44,25.31 C231.44,25.28 232.43,25.24 233.43,25.21 C234.42,25.17 235.42,25.13 236.42,25.09 C237.41,25.05 238.41,25.01 239.40,24.97 C240.40,24.93 241.39,24.88 242.39,24.84 C243.38,24.79 244.38,24.74 245.38,24.69 C246.37,24.64 247.37,24.58 248.36,24.52 C249.35,24.47 250.35,24.41 251.34,24.34 C252.34,24.27 253.33,24.21 254.33,24.13 C255.32,24.06 256.31,23.98 257.31,23.90 C258.30,23.81 259.29,23.72 260.28,23.63 C261.28,23.53 262.27,23.43 263.26,23.33 C264.25,23.22 265.24,23.11 266.23,22.99 C267.22,22.87 268.21,22.74 269.20,22.61 C270.19,22.48 271.17,22.34 272.16,22.19 C273.15,22.04 274.13,21.89 275.12,21.72 C276.10,21.56 277.09,21.39 278.07,21.21 C279.05,21.04 280.03,20.85 281.01,20.66 C281.99,20.47 282.97,20.27 283.94,20.06 C284.92,19.85 285.89,19.63 286.86,19.41 C287.83,19.19 288.80,18.95 289.77,18.71 C290.73,18.47 291.70,18.23 292.66,17.97 C293.62,17.71 294.58,17.45 295.53,17.17 C296.49,16.89 297.44,16.61 298.39,16.30 C299.33,16.00 300.27,15.68 301.21,15.34 C302.14,15.01 303.07,14.65 303.99,14.27 C304.91,13.89 305.82,13.48 306.73,13.06 C307.64,12.64 308.53,12.20 309.44,11.77 C310.34,11.34 311.24,10.89 312.15,10.48 C313.07,10.07 313.98,9.66 314.91,9.28 C315.83,8.90 316.76,8.54 317.69,8.19 C318.63,7.84 319.56,7.51 320.50,7.19 C321.44,6.86 322.38,6.55 323.31,6.23 C324.25,5.90 325.19,5.58 326.13,5.25 C327.06,4.92 327.99,4.55 328.94,4.23 C329.89,3.91 330.84,3.57 331.80,3.31 C332.77,3.04 333.76,2.79 334.75,2.65 C335.74,2.52 336.74,2.44 337.73,2.50 C338.71,2.57 339.70,2.75 340.65,3.04 C341.60,3.32 342.55,3.74 343.43,4.22 C344.30,4.69 345.16,5.28 345.92,5.91 C346.69,6.55 347.40,7.26 348.03,8.03 C348.65,8.79 349.18,9.64 349.66,10.50 C350.15,11.36 350.54,12.29 350.93,13.22 C351.33,14.14 351.67,15.09 352.04,16.03 C352.40,16.97 352.76,17.90 353.11,18.84 C353.46,19.78 353.80,20.72 354.14,21.66 C354.48,22.60 354.81,23.54 355.13,24.48 C355.45,25.42 355.76,26.36 356.06,27.31 C356.36,28.26 356.65,29.21 356.93,30.16 C357.21,31.12 357.47,32.07 357.72,33.04 C357.97,34.00 358.21,34.96 358.44,35.93 C358.68,36.90 358.89,37.87 359.10,38.85 C359.32,39.82 359.52,40.80 359.71,41.77 C359.90,42.75 360.08,43.73 360.26,44.71 C360.44,45.69 360.61,46.68 360.77,47.66 C360.94,48.64 361.10,49.63 361.25,50.61 C361.40,51.60 361.55,52.58 361.69,53.57 C361.83,54.56 361.97,55.54 362.10,56.53 C362.24,57.52 362.37,58.51 362.49,59.50 C362.62,60.48 362.74,61.47 362.86,62.46 C362.98,63.45 363.09,64.44 363.21,65.43 C363.32,66.42 363.44,67.41 363.55,68.40 C363.66,69.39 363.77,70.39 363.88,71.38 C363.99,72.37 364.09,73.36 364.20,74.35 C364.31,75.34 364.42,76.33 364.52,77.32 C364.63,78.31 364.74,79.30 364.85,80.30 C364.96,81.29 365.07,82.28 365.18,83.27 C365.29,84.26 365.40,85.25 365.51,86.24 C365.62,87.23 365.73,88.22 365.85,89.21 C365.96,90.20 366.07,91.19 366.18,92.18 C366.29,93.18 366.40,94.17 366.52,95.16 C366.63,96.15 366.74,97.14 366.85,98.13 C366.96,99.12 367.08,100.11 367.19,101.10 C367.30,102.09 367.41,103.08 367.52,104.07 C367.63,105.06 367.74,106.05 367.85,107.04 C367.96,108.03 368.07,109.02 368.18,110.02 C368.29,111.01 368.40,112.00 368.51,112.99 C368.61,113.98 368.72,114.97 368.83,115.96 C368.93,116.95 369.04,117.94 369.14,118.93 C369.24,119.93 369.35,120.92 369.45,121.91 C369.55,122.90 369.65,123.89 369.76,124.88 C369.86,125.87 369.96,126.87 370.06,127.86 C370.15,128.85 370.25,129.84 370.35,130.83 C370.45,131.82 370.54,132.82 370.64,133.81 C370.74,134.80 370.83,135.79 370.93,136.79 C371.02,137.78 371.11,138.77 371.21,139.76 C371.30,140.75 371.39,141.75 371.48,142.74 C371.58,143.73 371.67,144.72 371.76,145.72 C371.85,146.71 371.94,147.70 372.03,148.69 C372.11,149.69 372.20,150.68 372.29,151.67 C372.38,152.67 372.46,153.66 372.55,154.65 C372.64,155.65 372.72,156.64 372.81,157.63 C372.89,158.62 372.98,159.62 373.06,160.61 C373.14,161.60 373.23,162.60 373.31,163.59 C373.39,164.58 373.47,165.58 373.56,166.57 C373.64,167.56 373.72,168.56 373.80,169.55 C373.88,170.54 373.96,171.54 374.04,172.53 C374.12,173.53 374.20,174.52 374.28,175.51 C374.35,176.51 374.43,177.50 374.51,178.49 C374.59,179.49 374.67,180.48 374.74,181.48 C374.82,182.47 374.89,183.46 374.97,184.46 C375.05,185.45 375.12,186.44 375.20,187.44 C375.27,188.43 375.35,189.43 375.42,190.42 C375.50,191.42 375.57,192.41 375.64,193.40 C375.72,194.40 375.79,195.39 375.86,196.39 C375.93,197.38 376.01,198.37 376.08,199.37 C376.15,200.36 376.22,201.36 376.30,202.35 C376.37,203.35 376.44,204.34 376.51,205.33 C376.58,206.33 376.65,207.32 376.72,208.32 C376.79,209.31 376.86,210.31 376.93,211.30 C377.00,212.29 377.07,213.29 377.14,214.28 C377.21,215.28 377.28,216.27 377.35,217.27 C377.42,218.26 377.49,219.26 377.56,220.25 C377.63,221.24 377.69,222.24 377.76,223.23 C377.83,224.23 377.90,225.22 377.97,226.22 C378.04,227.21 378.10,228.21 378.17,229.20 C378.24,230.19 378.31,231.19 378.38,232.18 C378.44,233.18 378.51,234.17 378.58,235.17 C378.65,236.16 378.71,237.16 378.78,238.15 C378.85,239.14 378.92,240.14 378.98,241.13 C379.05,242.13 379.12,243.12 379.19,244.12 C379.25,245.11 379.32,246.11 379.39,247.10 C379.46,248.09 379.52,249.09 379.59,250.08 C379.66,251.08 379.73,252.07 379.79,253.07 C379.86,254.06 379.93,255.05 380.00,256.05 C380.06,257.04 380.13,258.04 380.20,259.03 C380.27,260.03 380.34,261.02 380.40,262.01 C380.47,263.01 380.58,264.50 380.61,265.00" stroke="#000000"/>
</g>
<g stroke="#666666" stroke-width="0.8" fill="none">
<rect x="66.50" y="0.30" width="340.50" height="256.10"/>
<path d="M76.23,256.40 v-2.80 M76.23,0.30 v2.80 M85.96,256.40 v-2.80 M85.96,0.30 v2.80 M95.69,256.40 v-2.80 M95.69,0.30 v2.80 M105.41,256.40 v-2.80 M105.41,0.30 v2.80 M115.14,256.40 v-4.80 M115.14,0.30 v4.80 M124.87,256.40 v-2.80 M124.87,0.30 v2.80 M134.60,256.40 v-2.80 M134.60,0.30 v2.80 M144.33,256.40 v-2.80 M144.33,0.30 v2.80 M154.06,256.40 v-2.80 M154.06,0.30 v2.80 M163.79,256.40 v-4.80 M163.79,0.30 v4.80 M173.51,256.40 v-2.80 M173.51,0.30 v2.80 M183.24,256.40 v-2.80 M183.24,0.30 v2.80 M192.97,256.40 v-2.80 M192.97,0.30 v2.80 M202.70,256.40 v-2.80 M202.70,0.30 v2.80 M212.43,256.40 v-4.80 M212.43,0.30 v4.80 M222.16,256.40 v-2.80 M222.16,0.30 v2.80 M231.89,256.40 v-2.80 M231.89,0.30 v2.80 M241.61,256.40 v-2.80 M241.61,0.30 v2.80 M251.34,256.40 v-2.80 M251.34,0.30 v2.80 M261.07,256.40 v-4.80 M261.07,0.30 v4.80 M270.80,256.40 v-2.80 M270.80,0.30 v2.80 M280.53,256.40 v-2.80 M280.53,0.30 v2.80 M290.26,256.40 v-2.80 M290.26,0.30 v2.80 M299.99,256.40 v-2.80 M299.99,0.30 v2.80 M309.71,256.40 v-4.80 M309.71,0.30 v4.80 M319.44,256.40 v-2.80 M319.44,0.30 v2.80 M329.17,256.40 v-2.80 M329.17,0.30 v2.80 M338.90,256.40 v-2.80 M338.90,0.30 v2.80 M348.63,256.40 v-2.80 M348.63,0.30 v2.80 M358.36,256.40 v-4.80 M358.36,0.30 v4.80 M368.09,256.40 v-2.80 M368.09,0.30 v2.80 M377.81,256.40 v-2.80 M377.81,0.30 v2.80 M387.54,256.40 v-2.80 M387.54,0.30 v2.80 M397.27,256.40 v-2.80 M397.27,0.30 v2.80 M66.50,241.28 h2.80 M407.00,241.28 h-2.80 M66.50,226.16 h2.80 M407.00,226.16 h-2.80 M66.50,211.04 h2.80 M407.00,211.04 h-2.80 M66.50,195.92 h4.80 M407.00,195.92 h-4.80 M66.50,180.81 h2.80 M407.00,180.81 h-2.80 M66.50,165.69 h2.80 M407.00,165.69 h-2.80 M66.50,150.57 h2.80 M407.00,150.57 h-2.80 M66.50,135.45 h4.80 M407.00,135.45 h-4.80 M66.50,120.33 h2.80 M407.00,120.33 h-2.80 M66.50,105.21 h2.80 M407.00,105.21 h-2.80 M66.50,90.09 h2.80 M407.00,90.09 h-2.80 M66.50,74.98 h4.80 M407.00,74.98 h-4.80 M66.50,59.86 h2.80 M407.00,59.86 h-2.80 M66.50,44.74 h2.80 M407.00,44.74 h-2.80 M66.50,29.62 h2.80 M407.00,29.62 h-2.80 M66.50,14.50 h4.80 M407.00,14.50 h-4.80"/>
</g>
</svg>
<div class="yl" style="top:257.25px">0.60</div>
<div class="yl" style="top:196.77px">0.62</div>
<div class="yl" style="top:136.30px">0.64</div>
<div class="yl" style="top:75.82px">0.66</div>
<div class="yl" style="top:15.35px">0.68</div>
<div class="xl" style="left:66.50px"><span class="mn">−</span>35</div>
<div class="xl" style="left:115.14px"><span class="mn">−</span>30</div>
<div class="xl" style="left:163.79px"><span class="mn">−</span>25</div>
<div class="xl" style="left:212.43px"><span class="mn">−</span>20</div>
<div class="xl" style="left:261.07px"><span class="mn">−</span>15</div>
<div class="xl" style="left:309.71px"><span class="mn">−</span>10</div>
<div class="xl" style="left:358.36px"><span class="mn">−</span>5</div>
<div class="xl" style="left:407.00px">0</div>
<div class="nu">ν</div><div class="ef">eff</div>
<div class="xt">log</div><div class="el">ℓ</div>
</body></html>
